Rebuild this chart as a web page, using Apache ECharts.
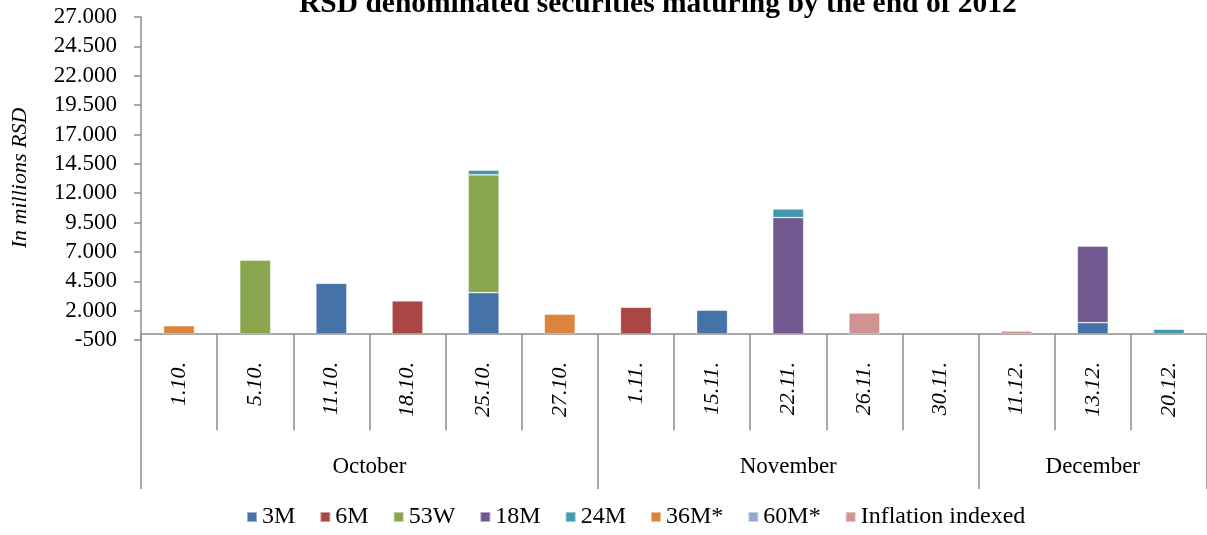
<!DOCTYPE html>
<html>
<head>
<meta charset="utf-8">
<script src="https://cdn.jsdelivr.net/npm/echarts@6/dist/echarts.min.js"></script>
<style>
html,body{margin:0;padding:0;background:#fff;}
#chart{width:1207px;height:535px;}
</style>
</head>
<body>
<div id="chart"></div>
<script>
// ---- data ----
const dates = ['1.10.','5.10.','11.10.','18.10.','25.10.','27.10.','1.11.','15.11.','22.11.','26.11.','30.11.','11.12.','13.12.','20.12.'];
const months = ['October','November','December'];
const monthCounts = [6, 5, 3];
const seriesNames = ['3M','6M','53W','18M','24M','36M*','60M*','Inflation indexed'];
const s3M   = [null,null,4330,null,3530,null,null,2040,null,null,null,null,980,null];
const s6M   = [null,null,null,2830,null,null,2290,null,null,null,null,null,null,null];
const s53W  = [null,6300,null,null,10030,null,null,null,null,null,null,null,null,null];
const s18M  = [null,null,null,null,null,null,null,null,9920,null,null,null,6510,null];
const s24M  = [null,null,null,null,400,null,null,null,740,null,null,null,null,420];
const s36M  = [720,null,null,null,null,1700,null,null,null,null,null,null,null,null];
const s60M  = [null,null,null,null,null,null,null,null,null,null,null,null,null,null];
const sInfl = [null,null,null,null,null,null,null,null,null,1800,null,270,null,null];
const yMin = -500, yMax = 27000, yStep = 2500;
const yName = 'In millions RSD';
const colors = ['#4572A7','#AA4643','#89A54E','#71588F','#4198AF','#DB843D','#93A9CF','#D19392'];

// ---- month axis helper (half-category points) ----
const monthPoints = [];
const monthLabelIdx = [];
const monthTickIdx = [0];
let pos = 0;
for (let m = 0; m < months.length; m++) {
  monthLabelIdx.push(pos + monthCounts[m]);
  pos += monthCounts[m] * 2;
  monthTickIdx.push(pos);
}
for (let i = 0; i <= pos; i++) {
  const k = monthLabelIdx.indexOf(i);
  monthPoints.push(k >= 0 ? months[k] : '');
}

function fmt(v) {
  const neg = v < 0;
  let s = String(Math.abs(Math.round(v)));
  s = s.replace(/\B(?=(\d{3})+(?!\d))/g, '.');
  return (neg ? '-' : '') + s;
}

const FONT = 'Liberation Serif';
const axisGray = '#8c8c8c';
const allData = [s3M, s6M, s53W, s18M, s24M, s36M, s60M, sInfl];

const chart = echarts.init(document.getElementById('chart'));
chart.setOption({
  animation: false,
  color: colors,
  textStyle: { fontFamily: FONT, color: '#000' },
  title: {
    text: 'RSD denominated securities maturing by the end of 2012',
    left: 294, top: -16,
    textStyle: { fontFamily: FONT, fontWeight: 'bold', fontSize: 29.5, color: '#000' }
  },
  legend: {
    bottom: 1, left: 241,
    icon: 'rect', itemWidth: 10, itemHeight: 10, itemGap: 24,
    textStyle: { fontFamily: FONT, fontSize: 24, color: '#000' },
    data: seriesNames
  },
  graphic: [{
    type: 'text', x: 20, y: 178, rotation: Math.PI / 2,
    style: { text: yName, font: 'italic 22px "Liberation Serif"', fill: '#000',
             align: 'center', verticalAlign: 'middle', textAlign: 'center', textVerticalAlign: 'middle' }
  }],
  grid: { left: 141, right: -1, top: 17, bottom: 195 },
  xAxis: [
    {
      type: 'category', data: dates, position: 'bottom',
      axisLine: { onZero: true, lineStyle: { color: axisGray, width: 1.5 } },
      axisTick: { show: true, interval: 0, length: 96, lineStyle: { color: axisGray, width: 1.5 } },
      axisLabel: { interval: 0, rotate: 90, margin: 22, fontFamily: FONT, fontStyle: 'italic', fontSize: 22, color: '#000' }
    },
    {
      type: 'category', data: monthPoints, position: 'bottom', boundaryGap: false,
      axisLine: { show: false, onZero: false },
      axisTick: { show: true, length: 149, interval: function (i) { return monthTickIdx.indexOf(i) >= 0; },
                  lineStyle: { color: axisGray, width: 1.5 } },
      axisLabel: { interval: function (i) { return monthLabelIdx.indexOf(i) >= 0; }, margin: 115,
                   fontFamily: FONT, fontSize: 23, color: '#000' }
    }
  ],
  yAxis: {
    type: 'value', min: yMin, max: yMax, interval: yStep,
    axisLine: { show: true, lineStyle: { color: axisGray, width: 1.5 } },
    axisTick: { show: true, length: 7, lineStyle: { color: axisGray, width: 1.5 } },
    axisLabel: { margin: 24, fontFamily: FONT, fontSize: 23, color: '#000', formatter: fmt },
    splitLine: { show: false }
  },
  series: seriesNames.map(function (n, i) {
    return {
      name: n, type: 'bar', stack: 'total', xAxisIndex: 0,
      barWidth: 31, data: allData[i],
      itemStyle: { color: colors[i], borderColor: 'rgba(255,255,255,0.45)', borderWidth: 0.8 }
    };
  })
});
</script>
</body>
</html>
